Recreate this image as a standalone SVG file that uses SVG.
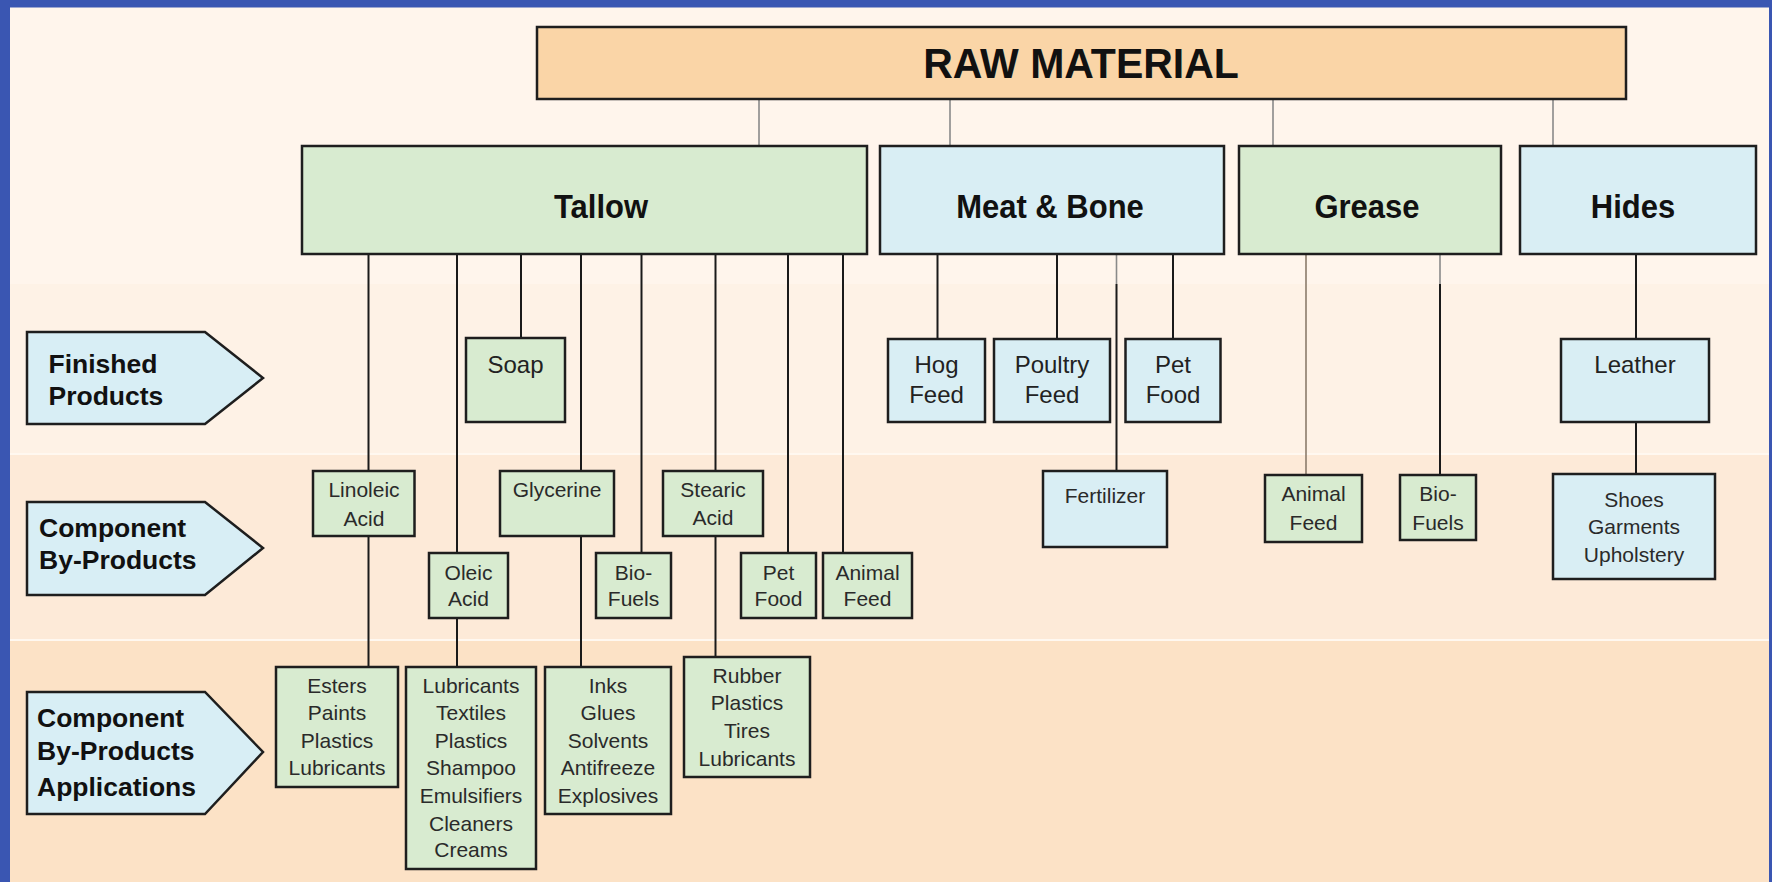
<svg xmlns="http://www.w3.org/2000/svg" width="1772" height="882" viewBox="0 0 1772 882">
<style>
.g{fill:#D8EBD0;stroke:#1E1E1E;stroke-width:2.5}
.b{fill:#D9EEF4;stroke:#1E1E1E;stroke-width:2.5}
.r{fill:#FAD5A7;stroke:#1E1E1E;stroke-width:2.5}
.p{fill:#D8EEF5;stroke:#1E1E1E;stroke-width:2.5}
.c{stroke:#1A1A1A;stroke-width:2;fill:none}
.cg{stroke:#8A8A8A;stroke-width:1.6;fill:none}
.cb{stroke:#8B7B6B;stroke-width:1.6;fill:none}
text{font-family:"Liberation Sans",Arial,sans-serif;fill:#1E1E1E}
.t21{font-size:21px;text-anchor:middle;fill:#2A2A2A}
.t24{font-size:24px;text-anchor:middle;fill:#222}
.cat{font-size:31px;font-weight:bold;text-anchor:middle;fill:#111}
.raw{font-size:41px;font-weight:bold;text-anchor:middle;fill:#111}
.lbl{font-size:26.5px;font-weight:bold;fill:#111}
</style>
<g id="background">
<rect width="1772" height="882" fill="#3A56B2"/>
<rect x="10" y="7.5" width="1759" height="277" fill="#FFF5EC"/>
<rect x="10" y="284" width="1759" height="170" fill="#FEF2E6"/>
<rect x="10" y="454" width="1759" height="186" fill="#FDEAD8"/>
<rect x="10" y="640" width="1759" height="242" fill="#FCE2C6"/>
<line x1="10" y1="454" x2="1769" y2="454" stroke="#FFF8F0" stroke-width="2"/>
<line x1="10" y1="640" x2="1769" y2="640" stroke="#FFF8F0" stroke-width="2"/>
</g>
<g id="connectors">
<line class="cg" x1="759" y1="99" x2="759" y2="146"/>
<line class="cg" x1="950" y1="99" x2="950" y2="146"/>
<line class="cg" x1="1273" y1="99" x2="1273" y2="146"/>
<line class="cg" x1="1553" y1="99" x2="1553" y2="146"/>
<line class="c" x1="368.5" y1="254" x2="368.5" y2="471"/>
<line class="c" x1="368.5" y1="536" x2="368.5" y2="667"/>
<line class="c" x1="457" y1="254" x2="457" y2="553"/>
<line class="c" x1="457" y1="618" x2="457" y2="667"/>
<line class="c" x1="521" y1="254" x2="521" y2="338"/>
<line class="c" x1="581" y1="254" x2="581" y2="471"/>
<line class="c" x1="581" y1="536" x2="581" y2="667"/>
<line class="c" x1="641.5" y1="254" x2="641.5" y2="553"/>
<line class="c" x1="715.5" y1="254" x2="715.5" y2="471"/>
<line class="c" x1="715.5" y1="536" x2="715.5" y2="657"/>
<line class="c" x1="788" y1="254" x2="788" y2="553"/>
<line class="c" x1="843" y1="254" x2="843" y2="553"/>
<line class="c" x1="937.5" y1="254" x2="937.5" y2="339"/>
<line class="c" x1="1057" y1="254" x2="1057" y2="339"/>
<line class="c" x1="1173" y1="254" x2="1173" y2="339"/>
<line class="cg" x1="1116.5" y1="254" x2="1116.5" y2="284"/>
<line class="c" x1="1116.5" y1="284" x2="1116.5" y2="471"/>
<line class="cb" x1="1306" y1="254" x2="1306" y2="475"/>
<line class="cg" x1="1440" y1="254" x2="1440" y2="284"/>
<line class="c" x1="1440" y1="284" x2="1440" y2="475"/>
<line class="c" x1="1636" y1="254" x2="1636" y2="339"/>
<line class="c" x1="1636" y1="422" x2="1636" y2="474"/>
</g>
<g id="raw-material">
<rect class="r" x="537" y="27" width="1089" height="72"/>
<text class="raw" transform="translate(1081,78) scale(1,1.05)">RAW MATERIAL</text>
</g>
<g id="tallow">
<rect class="g" x="302" y="146" width="565" height="108"/>
<text class="cat" transform="translate(601,218) scale(1,1.1)">Tallow</text>
</g>
<g id="meat-bone">
<rect class="b" x="880" y="146" width="344" height="108"/>
<text class="cat" transform="translate(1050,218) scale(1,1.1)">Meat &amp; Bone</text>
</g>
<g id="grease">
<rect class="g" x="1239" y="146" width="262" height="108"/>
<text class="cat" transform="translate(1367,218) scale(1,1.1)">Grease</text>
</g>
<g id="hides">
<rect class="b" x="1520" y="146" width="236" height="108"/>
<text class="cat" transform="translate(1633,218) scale(1,1.1)">Hides</text>
</g>
<g id="label-finished">
<polygon class="p" points="27,332 205,332 263,378 205,424 27,424"/>
<text class="lbl" x="48.5" y="372.5">Finished</text>
<text class="lbl" x="48.5" y="405">Products</text>
</g>
<g id="label-byproducts">
<polygon class="p" points="27,502 205,502 263,548 205,595 27,595"/>
<text class="lbl" x="39" y="537">Component</text>
<text class="lbl" x="39" y="569">By-Products</text>
</g>
<g id="label-applications">
<polygon class="p" points="27,692 205,692 263,752 205,814 27,814"/>
<text class="lbl" x="37" y="727">Component</text>
<text class="lbl" x="37" y="760">By-Products</text>
<text class="lbl" x="37" y="796">Applications</text>
</g>
<g id="soap">
<rect class="g" x="466" y="338" width="99" height="84"/>
<text class="t24" x="515.5" y="372.5">Soap</text>
</g>
<g id="hog-feed">
<rect class="b" x="888" y="339" width="97" height="83"/>
<text class="t24" x="936.5" y="373">Hog</text>
<text class="t24" x="936.5" y="403">Feed</text>
</g>
<g id="poultry-feed">
<rect class="b" x="994" y="339" width="116" height="83"/>
<text class="t24" x="1052" y="373">Poultry</text>
<text class="t24" x="1052" y="403">Feed</text>
</g>
<g id="pet-food-meat">
<rect class="b" x="1125.5" y="339" width="95" height="83"/>
<text class="t24" x="1173" y="373">Pet</text>
<text class="t24" x="1173" y="403">Food</text>
</g>
<g id="leather">
<rect class="b" x="1561" y="339" width="148" height="83"/>
<text class="t24" x="1635" y="372.5">Leather</text>
</g>
<g id="linoleic-acid">
<rect class="g" x="313" y="471" width="101.5" height="65"/>
<text class="t21" x="364" y="497">Linoleic</text>
<text class="t21" x="364" y="525.5">Acid</text>
</g>
<g id="glycerine">
<rect class="g" x="500" y="471" width="114" height="65"/>
<text class="t21" x="557" y="497">Glycerine</text>
</g>
<g id="stearic-acid">
<rect class="g" x="663" y="471" width="100" height="65"/>
<text class="t21" x="713" y="497">Stearic</text>
<text class="t21" x="713" y="525">Acid</text>
</g>
<g id="oleic-acid">
<rect class="g" x="429" y="553" width="79" height="65"/>
<text class="t21" x="468.5" y="579.5">Oleic</text>
<text class="t21" x="468.5" y="606">Acid</text>
</g>
<g id="bio-fuels-tallow">
<rect class="g" x="596" y="553" width="75" height="65"/>
<text class="t21" x="633.5" y="579.5">Bio-</text>
<text class="t21" x="633.5" y="606">Fuels</text>
</g>
<g id="pet-food-tallow">
<rect class="g" x="741" y="553" width="75" height="65"/>
<text class="t21" x="778.5" y="579.5">Pet</text>
<text class="t21" x="778.5" y="606">Food</text>
</g>
<g id="animal-feed-tallow">
<rect class="g" x="823" y="553" width="89" height="65"/>
<text class="t21" x="867.5" y="579.5">Animal</text>
<text class="t21" x="867.5" y="606">Feed</text>
</g>
<g id="fertilizer">
<rect class="b" x="1043" y="471" width="124" height="76"/>
<text class="t21" x="1105" y="503">Fertilizer</text>
</g>
<g id="animal-feed-grease">
<rect class="g" x="1265" y="475" width="97" height="67"/>
<text class="t21" x="1313.5" y="501">Animal</text>
<text class="t21" x="1313.5" y="529.5">Feed</text>
</g>
<g id="bio-fuels-grease">
<rect class="g" x="1400" y="475" width="76" height="65"/>
<text class="t21" x="1438" y="501">Bio-</text>
<text class="t21" x="1438" y="530">Fuels</text>
</g>
<g id="shoes">
<rect class="b" x="1553" y="474" width="162" height="105"/>
<text class="t21" x="1634" y="506.5">Shoes</text>
<text class="t21" x="1634" y="533.5">Garments</text>
<text class="t21" x="1634" y="561.5">Upholstery</text>
</g>
<g id="esters">
<rect class="g" x="276" y="667" width="122" height="120"/>
<text class="t21" x="337" y="692.5">Esters</text>
<text class="t21" x="337" y="719.5">Paints</text>
<text class="t21" x="337" y="747.5">Plastics</text>
<text class="t21" x="337" y="775">Lubricants</text>
</g>
<g id="lubricants">
<rect class="g" x="406" y="667" width="130" height="202"/>
<text class="t21" x="471" y="692.5">Lubricants</text>
<text class="t21" x="471" y="719.5">Textiles</text>
<text class="t21" x="471" y="747.5">Plastics</text>
<text class="t21" x="471" y="775">Shampoo</text>
<text class="t21" x="471" y="803">Emulsifiers</text>
<text class="t21" x="471" y="830.5">Cleaners</text>
<text class="t21" x="471" y="857">Creams</text>
</g>
<g id="inks">
<rect class="g" x="545" y="667" width="126" height="147"/>
<text class="t21" x="608" y="692.5">Inks</text>
<text class="t21" x="608" y="719.5">Glues</text>
<text class="t21" x="608" y="747.5">Solvents</text>
<text class="t21" x="608" y="775">Antifreeze</text>
<text class="t21" x="608" y="803">Explosives</text>
</g>
<g id="rubber">
<rect class="g" x="684" y="657" width="126" height="120"/>
<text class="t21" x="747" y="682.5">Rubber</text>
<text class="t21" x="747" y="710">Plastics</text>
<text class="t21" x="747" y="737.5">Tires</text>
<text class="t21" x="747" y="765.5">Lubricants</text>
</g>
</svg>
